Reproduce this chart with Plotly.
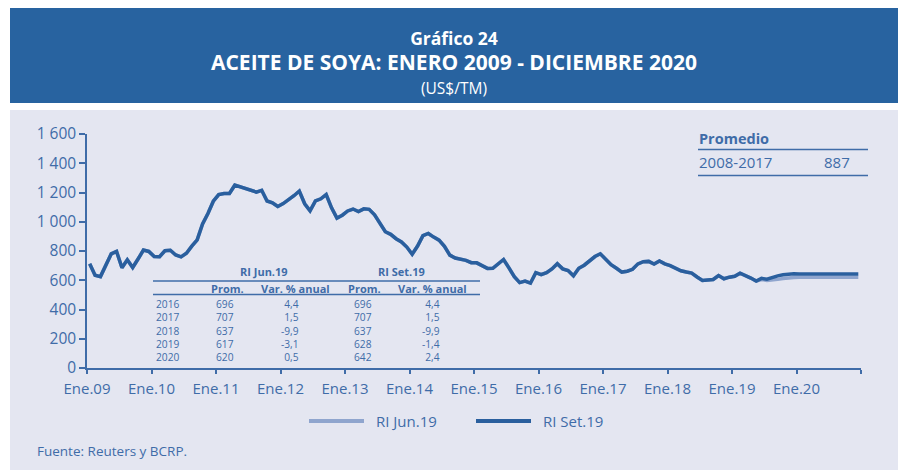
import plotly.graph_objects as go

# ---------------- data ----------------
x_tick_labels = ["Ene.09", "Ene.10", "Ene.11", "Ene.12", "Ene.13", "Ene.14", "Ene.15",
                 "Ene.16", "Ene.17", "Ene.18", "Ene.19", "Ene.20", ""]
y_tick_values = [0, 200, 400, 600, 800, 1000, 1200, 1400, 1600]
y_tick_labels = ["0", "200", "400", "600", "800", "1 000", "1 200", "1 400", "1 600"]

# RI Set.19 monthly (Jan 2009 - Dec 2020), US$/TM
set19_values = [
    712, 634, 625, 704, 780, 797, 685, 740, 687, 745, 806, 797,          # 2009
    762, 761, 802, 805, 773, 760, 785, 833, 876, 985, 1056, 1140,        # 2010
    1186, 1193, 1193, 1250, 1238, 1225, 1212, 1203, 1215, 1142, 1130, 1104,  # 2011
    1124, 1150, 1178, 1210, 1123, 1075, 1142, 1157, 1186, 1095, 1025, 1045,  # 2012
    1074, 1087, 1070, 1088, 1085, 1048, 986, 932, 914, 884, 862, 827,    # 2013
    778, 834, 905, 920, 895, 874, 832, 772, 752, 747, 736, 720,          # 2014
    719, 700, 681, 682, 713, 742, 685, 624, 584, 594, 580, 652,          # 2015
    638, 652, 677, 713, 678, 666, 630, 682, 703, 735, 762, 781,          # 2016
    740, 706, 682, 656, 662, 675, 712, 727, 729, 711, 732, 712,          # 2017
    700, 680, 665, 656, 649, 622, 598, 602, 605, 632, 610, 621,          # 2018
    627, 648, 634, 615, 594, 613, 607, 620, 630, 637, 641, 645,          # 2019
    643, 643, 642, 642, 642, 642, 642, 642, 642, 642, 642, 642,          # 2020
]
set19_month_index = list(range(len(set19_values)))

# RI Jun.19 (where it differs: May 2019 - Dec 2020)
jun19_month_index = list(range(124, 144))
jun19_values = [594, 605, 599, 601, 606, 612, 617, 619,
                620, 620, 620, 620, 620, 620, 620, 620, 620, 620, 620, 620]

table_years = ["2016", "2017", "2018", "2019", "2020"]
jun19_prom = ["696", "707", "637", "617", "620"]
jun19_var = ["4,4", "1,5", "-9,9", "-3,1", "0,5"]
set19_prom = ["696", "707", "637", "628", "642"]
set19_var = ["4,4", "1,5", "-9,9", "-1,4", "2,4"]

# ---------------- layout helpers ----------------
OFF = 8  # page body margin
W, H = 900, 462
L, R, T, B = 79, 47, 126, 102
pw, ph = W - L - R, H - T - B


def px(x):
    return (x - OFF - L) / pw


def py(y):
    return (H - B - (y - OFF)) / ph


DARK = "#2A5F9E"
LIGHT = "#8FA5CE"
BAND = "#2863A0"
PANEL = "#E4E6F1"
TXT = "#3F6CA8"
FONT = "Open Sans"

fig = go.Figure()
fig.add_trace(go.Scatter(x=set19_month_index[:125] + jun19_month_index[1:],
                         y=set19_values[:125] + jun19_values[1:],
                         mode="lines", line=dict(color=LIGHT, width=3.5),
                         name="RI Jun.19", showlegend=False, hoverinfo="skip"))
fig.add_trace(go.Scatter(x=set19_month_index, y=set19_values, mode="lines",
                         line=dict(color=DARK, width=3.5),
                         name="RI Set.19", showlegend=False))

shapes = [
    dict(type="rect", xref="paper", yref="paper", x0=px(10), x1=px(898), y0=py(478), y1=py(110),
         fillcolor=PANEL, line=dict(width=0), layer="below"),
    dict(type="rect", xref="paper", yref="paper", x0=px(10), x1=px(898), y0=py(103), y1=py(7),
         fillcolor=BAND, line=dict(width=0), layer="below"),
]


def hline(x0, x1, y, w=1.5, color=TXT):
    shapes.append(dict(type="line", xref="paper", yref="paper", x0=px(x0), x1=px(x1),
                       y0=py(y), y1=py(y), line=dict(color=color, width=w)))


# table lines
hline(153, 480, 281)
hline(153, 480, 294.5)
# promedio lines
hline(698, 868, 149.5)
hline(698, 868, 175.5)
# legend samples
shapes.append(dict(type="line", xref="paper", yref="paper", x0=px(309), x1=px(364), y0=py(421), y1=py(421),
                   line=dict(color=LIGHT, width=4)))
shapes.append(dict(type="line", xref="paper", yref="paper", x0=px(476), x1=px(531), y0=py(421), y1=py(421),
                   line=dict(color=DARK, width=4)))

ann = []


def text(t, x, y, size, color=TXT, bold=False, anchor="center", family=FONT, yanchor="middle"):
    if bold:
        t = "<b>" + t + "</b>"
    ann.append(dict(text=t, x=px(x), y=py(y), xref="paper", yref="paper", showarrow=False,
                    xanchor=anchor, yanchor=yanchor, align=anchor if anchor != "center" else "center",
                    font=dict(size=size, color=color, family=family)))


# title block as one multi-line text
title_html = ("<b><span style='font-size:17.5px'>Gráfico 24</span></b><br>"
              "<b><span style='font-size:21px'>ACEITE DE SOYA: ENERO 2009 - DICIEMBRE 2020</span></b><br>"
              "<span style='font-size:15.5px'>(US$/TM)</span>")
text(title_html, 454, 62, 19, "white")

# table headers
text("RI Jun.19", 264, 271, 11, TXT, True)
text("RI Set.19", 401, 271, 11, TXT, True)
text("Prom.", 227, 288, 11, TXT, True)
text("Var. % anual", 295, 288, 11, TXT, True)
text("Prom.", 364, 288, 11, TXT, True)
text("Var. % anual", 432, 288, 11, TXT, True)
# table body: one multi-line text per column
mid_y = 304 + 13 * 2
text("<br>".join(table_years), 154, mid_y, 10.2, anchor="left")
text("<br>".join(jun19_prom), 225, mid_y, 10.2)
text("<br>".join(jun19_var), 301, mid_y, 10.2, anchor="right")
text("<br>".join(set19_prom), 363, mid_y, 10.2)
text("<br>".join(set19_var), 442, mid_y, 10.2, anchor="right")

# promedio
text("Promedio", 697, 138.5, 14.5, TXT, True, anchor="left")
text("2008-2017", 697, 162, 15, anchor="left")
text("887", 852, 162, 15, anchor="right")

# legend
text("RI Jun.19", 374, 421, 15, anchor="left")
text("RI Set.19", 541, 421, 15, anchor="left")

# source
text("Fuente: Reuters y BCRP.", 35, 451, 13.5, anchor="left")

fig.update_layout(
    width=W, height=H, margin=dict(l=L, r=R, t=T, b=B),
    paper_bgcolor="white", plot_bgcolor=PANEL,
    shapes=shapes, annotations=ann, showlegend=False,
    font=dict(family=FONT, color=TXT),
)
fig.update_xaxes(range=[-0.5, 143.5], tickmode="array",
                 tickvals=[12 * k - 0.5 for k in range(len(x_tick_labels))],
                 ticktext=x_tick_labels, showgrid=False, zeroline=False,
                 showline=True, linecolor=TXT, linewidth=1.5,
                 ticks="outside", ticklen=4, tickcolor=TXT, tickwidth=1.5,
                 ticklabelstandoff=2,
                 tickfont=dict(size=15, color=TXT, family=FONT))
fig.update_yaxes(range=[0, 1600], tickmode="array", tickvals=y_tick_values,
                 ticktext=y_tick_labels, showgrid=False, zeroline=False,
                 showline=True, linecolor=TXT, linewidth=1.5,
                 ticks="outside", ticklen=6, tickcolor=TXT, tickwidth=1.5,
                 tickfont=dict(size=15.5, color=TXT, family=FONT))

fig.write_html("out.html")
